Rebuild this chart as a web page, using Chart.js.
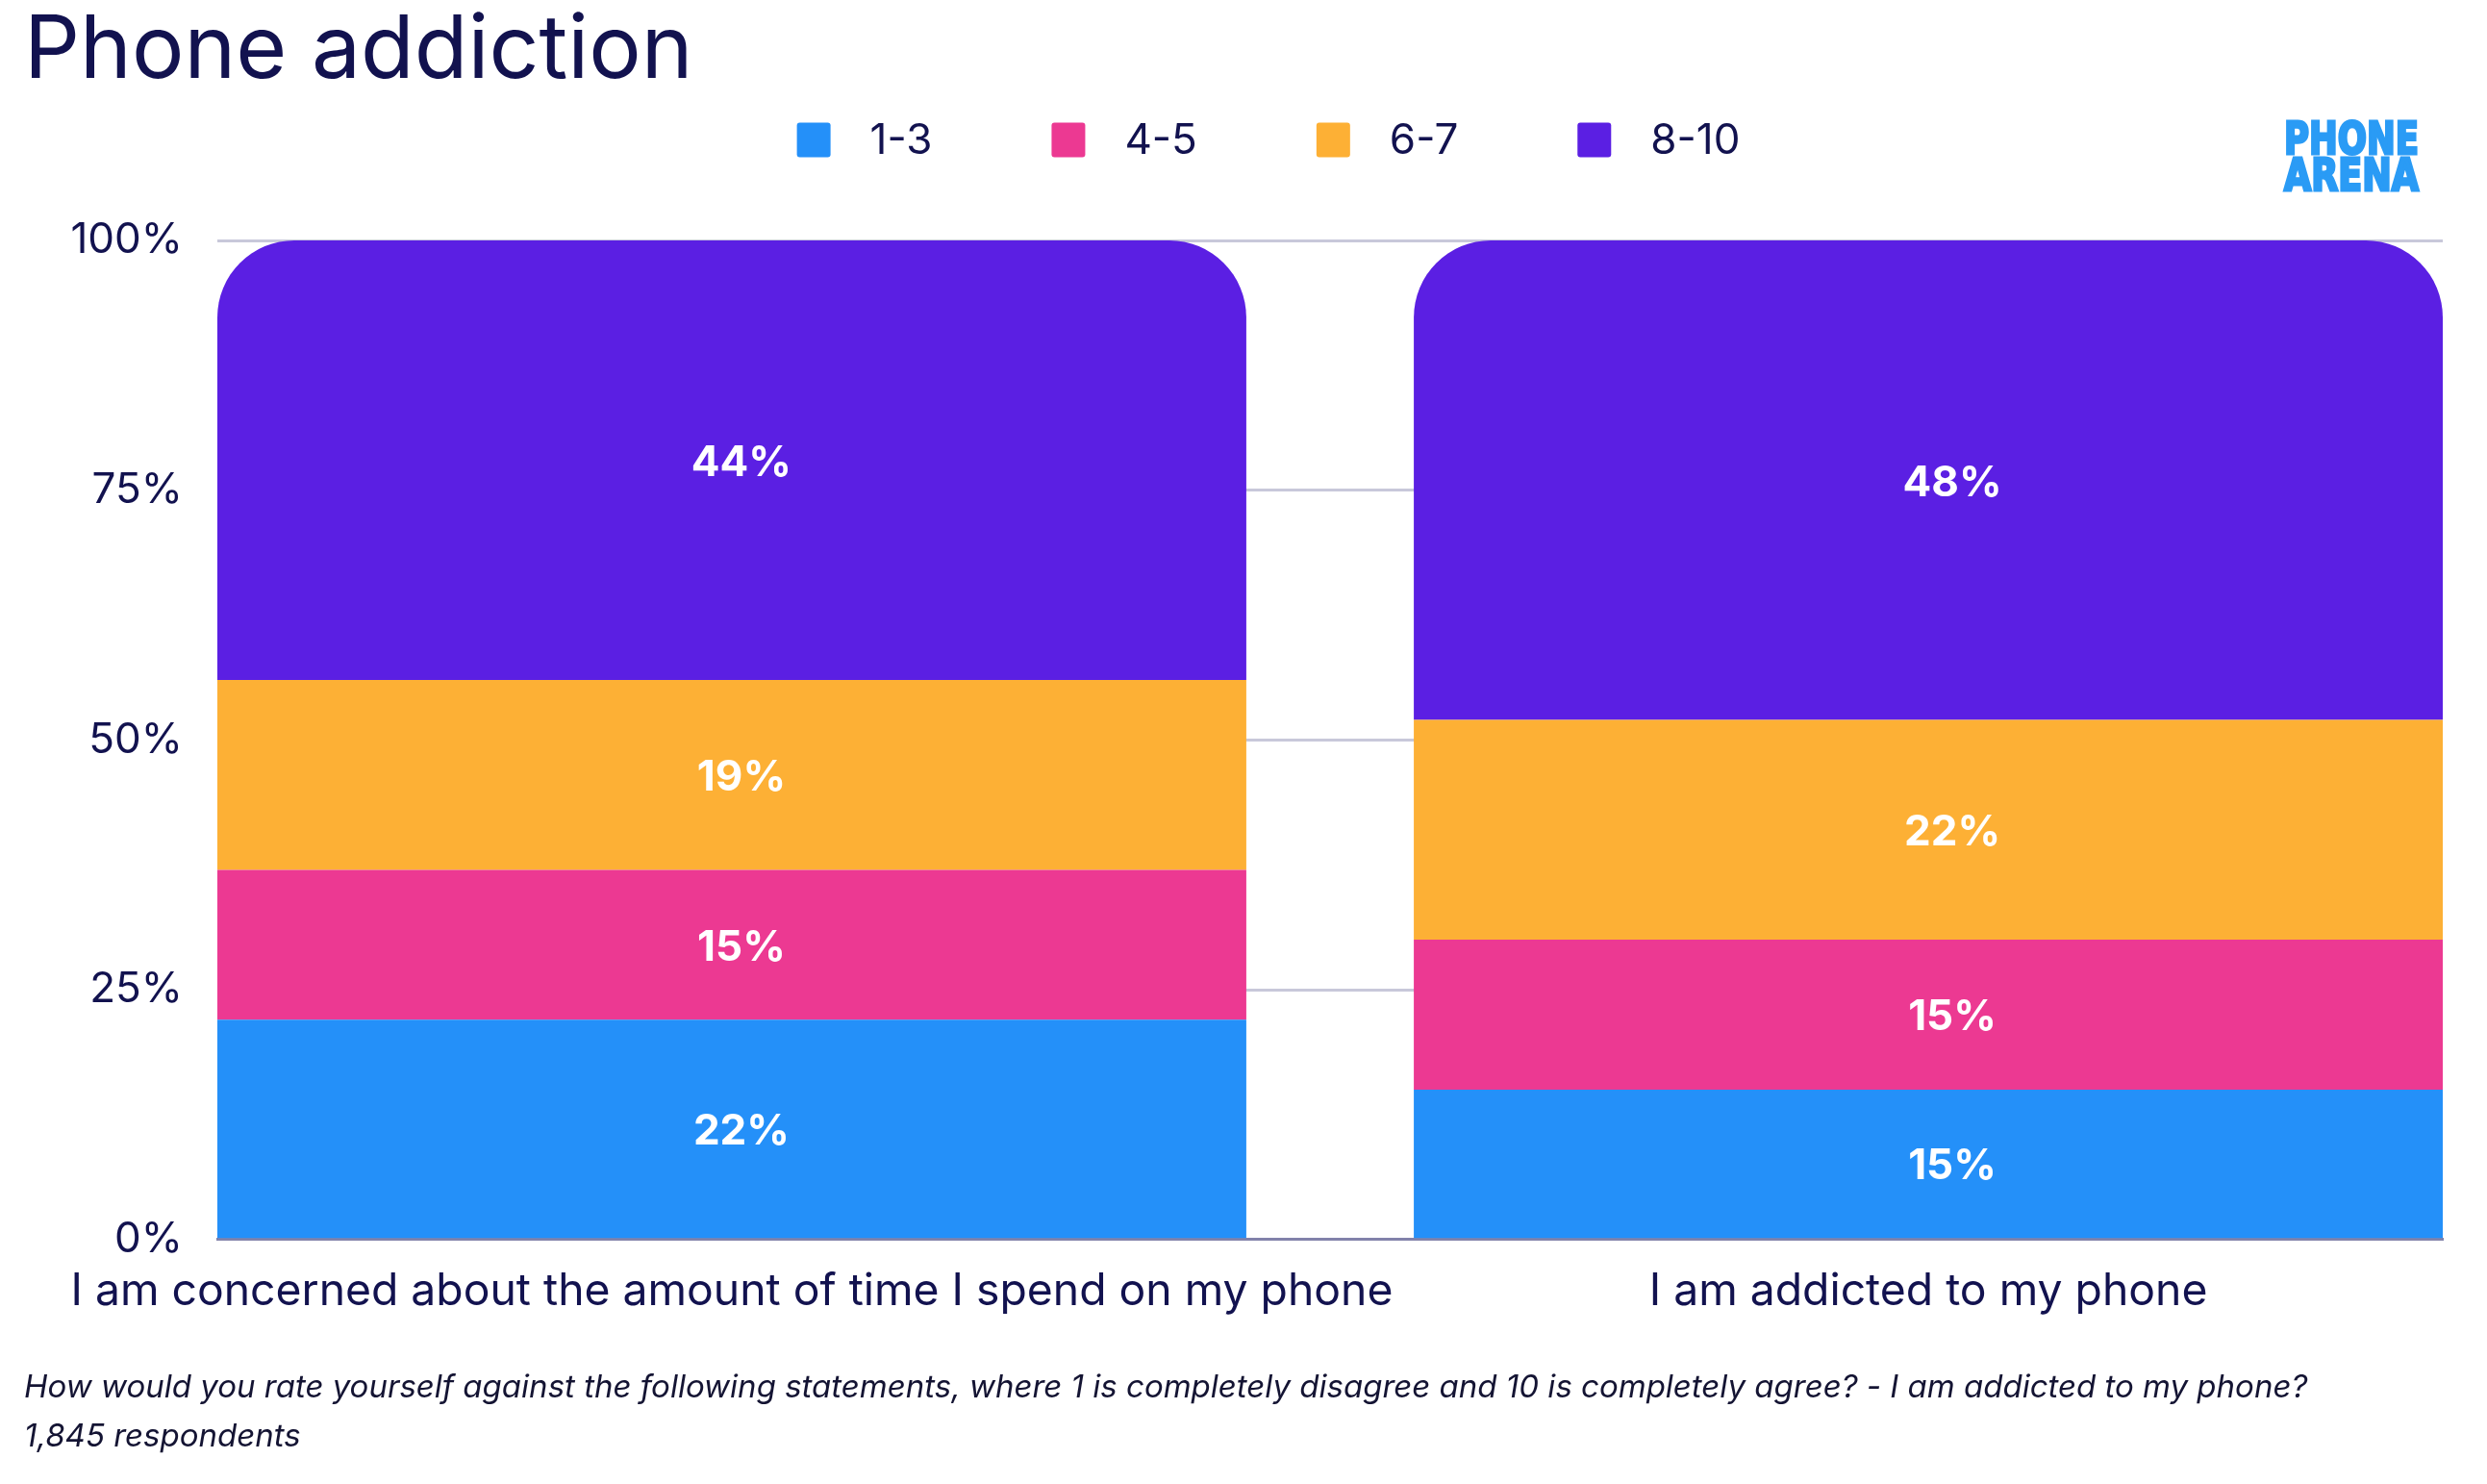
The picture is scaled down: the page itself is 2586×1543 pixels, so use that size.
<!DOCTYPE html>
<html><head><meta charset="utf-8">
<script src="https://cdn.jsdelivr.net/npm/chart.js@4/dist/chart.umd.min.js"></script>
<style>html,body{margin:0;padding:0;background:#fff;} #wrap{width:2586px;height:1543px;position:relative;}</style>
</head><body><div id="wrap"><canvas id="c"></canvas></div>
<script>
const categories = ['I am concerned about the amount of time I spend on my phone', 'I am addicted to my phone'];
const seriesNames = ['1-3', '4-5', '6-7', '8-10'];
const values_1_3 = [22, 15];
const values_4_5 = [15, 15];
const values_6_7 = [19, 22];
const values_8_10 = [44, 48];
const yTickValues = [0, 25, 50, 75, 100];
const titleText = 'Phone addiction';
const footnoteLines = ['How would you rate yourself against the following statements, where 1 is completely disagree and 10 is completely agree? - I am addicted to my phone?', '1,845 respondents'];
const logoLines = ['PHONE', 'ARENA'];

const seriesValues = [values_1_3, values_4_5, values_6_7, values_8_10];
const colors = ['#2490f9', '#ec3992', '#fdb035', '#5b1fe3'];
const labelShiftX = [10, 25];
const NAVY = '#12124f';

const datasets = seriesNames.map((name, si) => ({
  label: name,
  data: seriesValues[si].map((v, ci) => ({x: ci, y: v})),
  backgroundColor: colors[si],
  borderWidth: 0,
  borderRadius: si === seriesNames.length - 1 ? {topLeft: 80, topRight: 80, bottomLeft: 0, bottomRight: 0} : 0,
  categoryPercentage: 1,
  barPercentage: 0.86
}));

const segLabels = {
  id: 'segLabels',
  afterDatasetsDraw(chart) {
    const ctx = chart.ctx;
    ctx.save();
    ctx.font = 'bold 44px Inter';
    ctx.fillStyle = '#ffffff';
    ctx.textAlign = 'center';
    ctx.textBaseline = 'middle';
    chart.data.datasets.forEach((ds, di) => {
      const meta = chart.getDatasetMeta(di);
      meta.data.forEach((el, i) => {
        const p = el.getProps(['x', 'y', 'base'], true);
        ctx.fillText(ds.data[i].y + '%', p.x + labelShiftX[i], (p.y + p.base) / 2 + 3);
      });
    });
    ctx.restore();
  }
};

const customLegend = {
  id: 'customLegend',
  afterDraw(chart) {
    const ctx = chart.ctx;
    ctx.save();
    ctx.font = '44px Inter';
    const box = 35, gapText = 45, gapItem = 120;
    const items = chart.data.datasets.map(d => ({text: d.label, color: d.backgroundColor, w: ctx.measureText(d.label).width}));
    const total = items.reduce((s, it) => s + box + gapText + it.w, 0) + gapItem * (items.length - 1);
    let x = chart.width / 2 + 28 - total / 2;
    const cy = 145;
    items.forEach(it => {
      ctx.fillStyle = it.color;
      ctx.beginPath();
      ctx.roundRect(x, cy - box / 2, box, box + 1, 3);
      ctx.fill();
      ctx.fillStyle = NAVY;
      ctx.textAlign = 'left';
      ctx.textBaseline = 'middle';
      ctx.fillText(it.text, x + box + gapText - 4, cy + 2);
      x += box + gapText + it.w + gapItem;
    });
    // logo
    ctx.fillStyle = '#2a9bf5';
    ctx.strokeStyle = '#2a9bf5';
    ctx.lineWidth = 3;
    ctx.lineJoin = 'miter';
    ctx.font = '900 46px "DejaVu Sans"';
    ctx.textBaseline = 'alphabetic';
    ctx.textAlign = 'left';
    logoLines.forEach((t, i) => {
      const y = 160 + i * 38;
      ctx.fillText(t, 2375, y, 140);
      ctx.strokeText(t, 2375, y, 140);
    });
    ctx.restore();
  }
};

new Chart(document.getElementById('c'), {
  type: 'bar',
  data: {datasets},
  plugins: [segLabels, customLegend],
  options: {
    responsive: true,
    maintainAspectRatio: false,
    devicePixelRatio: 1,
    animation: false,
    layout: {padding: {left: 25, right: 46, top: 0, bottom: 23}},
    plugins: {
      legend: {display: false},
      tooltip: {enabled: false},
      title: {
        display: true, text: titleText, align: 'start', color: NAVY,
        font: {family: 'Inter', size: 91, weight: '400', lineHeight: 1},
        padding: {top: 8, bottom: 151}
      },
      subtitle: {
        display: true, position: 'bottom', text: footnoteLines, align: 'start', color: '#141433',
        font: {family: 'Inter', size: 33, style: 'italic', weight: '400', lineHeight: 1.55},
        padding: {top: 50, bottom: 0}
      }
    },
    scales: {
      x: {
        type: 'linear', stacked: true, min: -0.43, max: 1.43, offset: false,
        grid: {display: false, offset: false, drawTicks: false},
        border: {display: true, color: '#8282aa', width: 3},
        afterBuildTicks: s => { s.ticks = categories.map((_, i) => ({value: i})); },
        afterFit: s => { s.height = 79; s.paddingLeft = 0; s.paddingRight = 0; },
        ticks: {
          autoSkip: false, maxRotation: 0, padding: 27, color: NAVY,
          font: {family: 'Inter', size: 46.3},
          callback: v => categories[v]
        }
      },
      y: {
        stacked: true, min: 0, max: 100,
        afterBuildTicks: s => { s.ticks = yTickValues.map(v => ({value: v})); },
        afterFit: s => { s.width = 201; },
        grid: {color: '#c8c8da', lineWidth: 3, drawTicks: false},
        border: {display: false},
        ticks: {padding: 36, color: NAVY, font: {family: 'Inter', size: 44}, callback: v => v + '%'}
      }
    }
  }
});
</script></body></html>
